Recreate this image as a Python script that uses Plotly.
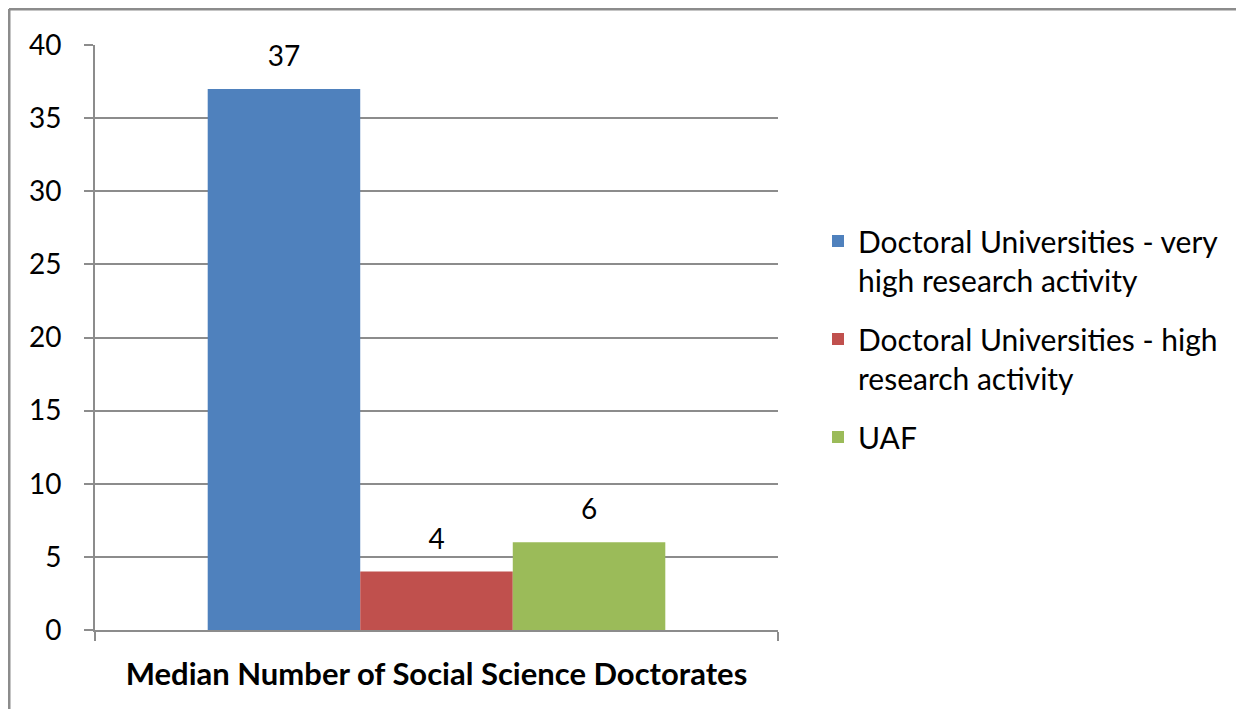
import plotly.graph_objects as go

categories = ["Median Number of Social Science Doctorates"]
series_names = [
    "Doctoral Universities - very<br>high research activity",
    "Doctoral Universities - high<br>research activity",
    "UAF",
]
series_values = [[37], [4], [6]]
series_colors = ["#4F81BD", "#C0504D", "#9BBB59"]
y_ticks = [0, 5, 10, 15, 20, 25, 30, 35, 40]

FONT = "Lato"
OFF = 8  # page body margin
W, H = 1244, 709
L, R, T, B = 95 - OFF, W - (778 - OFF), 45 - OFF, H - (630 - OFF)
pw, ph = W - L - R, H - T - B

fig = go.Figure()
for i, (name, vals, col) in enumerate(zip(series_names, series_values, series_colors)):
    fig.add_trace(go.Bar(
        x=categories, y=vals, name=name,
        marker=dict(color=col, line=dict(width=0)),
        texttemplate="<span style='font-size:28px'>%{y}</span><br> ",
        textposition="outside",
        textfont=dict(family=FONT, size=13, color="#000000"),
        cliponaxis=False,
        legendgroup=f"g{i}",
    ))

def px_x(p):
    return (p - OFF - L) / pw

def px_y(p):
    return (H - B - (p - OFF)) / ph

fig.update_layout(
    width=W, height=H,
    margin=dict(l=L, r=R, t=T, b=B, autoexpand=False),
    paper_bgcolor="white", plot_bgcolor="white",
    barmode="group", bargap=0.33, bargroupgap=0,
    font=dict(family=FONT, size=28, color="#000000"),
    showlegend=True,
    legend=dict(
        x=px_x(818), y=px_y(215), xanchor="left", yanchor="top",
        font=dict(family=FONT, size=30, color="#000000"),
        tracegroupgap=17, valign="top", traceorder="grouped",
        bgcolor="rgba(0,0,0,0)",
    ),
    xaxis=dict(
        type="category",
        showline=True, linecolor="#8C8C8C", linewidth=2,
        ticks="outside", tickson="boundaries", ticklen=9, tickcolor="#8C8C8C", tickwidth=2,
        showgrid=False,
        tickfont=dict(family=FONT, size=31, color="#000000", weight="bold"),
        ticklabelstandoff=16,
    ),
    yaxis=dict(
        range=[0, 40], tickvals=y_ticks,
        showline=True, linecolor="#8C8C8C", linewidth=2,
        ticks="outside", ticklen=9, tickcolor="#8C8C8C", tickwidth=2,
        showgrid=True, gridcolor="#8C8C8C", gridwidth=2,
        zeroline=False,
        tickfont=dict(family=FONT, size=28, color="#000000"),
        ticklabelstandoff=17,
    ),
    shapes=[
        dict(type="line", xref="paper", yref="paper",
             x0=px_x(9), x1=px_x(W + OFF), y0=px_y(9), y1=px_y(9),
             line=dict(color="#8C8C8C", width=3)),
        dict(type="line", xref="paper", yref="paper",
             x0=px_x(9), x1=px_x(9), y0=px_y(9), y1=px_y(H + OFF),
             line=dict(color="#8C8C8C", width=3)),
    ],
)

fig.write_html("out.html")
